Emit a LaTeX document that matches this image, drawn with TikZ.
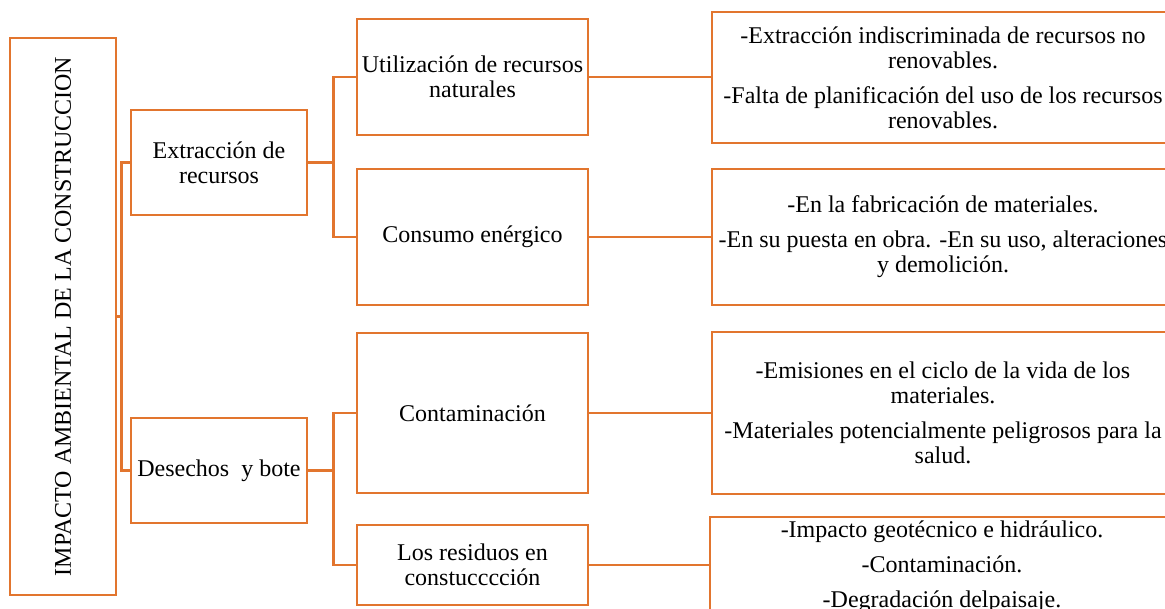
\documentclass[tikz,border=0pt]{standalone}
\usepackage{fontspec}
\setmainfont{Liberation Serif}
\usepackage{graphicx}
\usepackage{tikz}
\definecolor{boxorange}{RGB}{226,117,46}

\begin{document}
\begin{tikzpicture}[
   x=0.5pt,y=-0.5pt,
   font=\fontsize{12}{12.5}\selectfont,
   box/.style={draw=boxorange,line width=1.4pt,align=center,inner xsep=1pt,inner ysep=1pt},
   link/.style={draw=boxorange,line width=1.4pt}]
\clip (0,0) rectangle (1165,609);
% root
\node[box,minimum width=53pt,minimum height=278.5pt] (root) at (63,316.5) {\rotatebox{90}{IMPACTO AMBIENTAL DE LA CONSTRUCCION}};
% second level
\node[box,minimum width=88pt,minimum height=52.5pt] (ext) at (219,162.5) {Extracción de\\recursos};
\node[box,minimum width=88pt,minimum height=52.5pt] (des) at (219,470.5) {Desechos\ \ y bote};
% third level
\node[box,minimum width=115.5pt,minimum height=58pt] (uti) at (472.5,77) {Utilización de recursos\\naturales};
\node[box,minimum width=115.5pt,minimum height=68pt] (con) at (472.5,237) {Consumo enérgico};
\node[box,minimum width=115.5pt,minimum height=80pt] (cont) at (472.5,413) {Contaminación};
\node[box,minimum width=115.5pt,minimum height=40pt] (res) at (472.5,565) {Los residuos en\\constucccción};
% details
\node[box,minimum width=231pt,minimum height=65.5pt] (uti-d) at (943,77.5) {-Extracción indiscriminada de recursos no\\renovables.\\[5pt]-Falta de planificación del uso de los recursos\\renovables.};
\node[box,minimum width=231pt,minimum height=68pt] (con-d) at (943,237) {-En la fabricación de materiales.\\[5pt]-En su puesta en obra. -En su uso, alteraciones\\y demolición.};
\node[box,minimum width=231pt,minimum height=81pt] (cont-d) at (943,413) {-Emisiones en el ciclo de la vida de los\\materiales.\\[5pt]-Materiales potencialmente peligrosos para la\\salud.};
\node[box,minimum width=232pt,minimum height=50pt,inner ysep=0pt] (res-d) at (942,567) {-Impacto geotécnico e hidráulico.\\[5pt]-Contaminación.\\[5pt]-Degradación delpaisaje.};
% connectors
\draw[link] (ext.west) -- ++(-8,0) |- (root.east);
\draw[link] (des.west) -- ++(-8,0) |- (root.east);
\draw[link] (ext.east) -- ++(25,0) |- (uti.west);
\draw[link] (ext.east) -- ++(25,0) |- (con.west);
\draw[link] (des.east) -- ++(25,0) |- (cont.west);
\draw[link] (des.east) -- ++(25,0) |- (res.west);
\draw[link] (uti.east) -- (uti.east -| uti-d.west);
\draw[link] (con.east) -- (con.east -| con-d.west);
\draw[link] (cont.east) -- (cont.east -| cont-d.west);
\draw[link] (res.east) -- (res.east -| res-d.west);
\end{tikzpicture}
\end{document}
